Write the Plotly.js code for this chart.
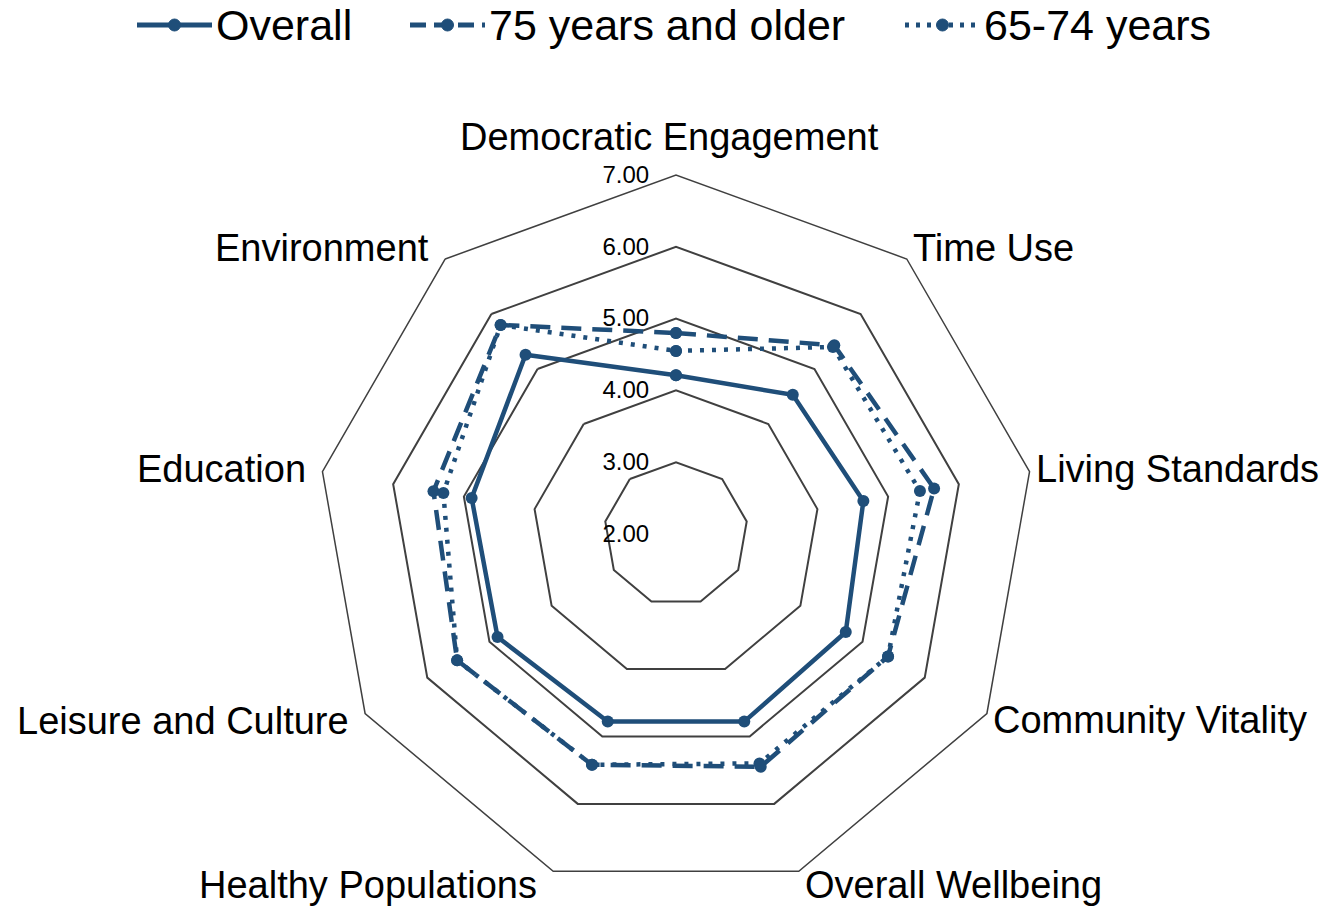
<!DOCTYPE html>
<html>
<head>
<meta charset="utf-8">
<script src="https://cdn.plot.ly/plotly-3.0.1.min.js"></script>
<style>html,body{margin:0;padding:0;background:#fff;}#chart{width:1327px;height:906px;}</style>
</head>
<body>
<div id="chart"></div>
<script>
const categories = ["Democratic Engagement", "Time Use", "Living Standards", "Community Vitality", "Overall Wellbeing", "Healthy Populations", "Leisure and Culture", "Education", "Environment"];
const seriesNames = ["Overall", "75 years and older", "65-74 years"];
const overall = [4.21, 4.53, 4.65, 4.73, 4.78, 4.78, 4.87, 4.89, 5.26];
const older75 = [4.80, 5.43, 5.65, 5.41, 5.45, 5.42, 5.52, 5.43, 5.80];
const age6574 = [4.55, 5.40, 5.45, 5.41, 5.40, 5.42, 5.52, 5.29, 5.80];
const radialTicks = [2, 3, 4, 5, 6, 7];
const radialTickText = ["2.00", "3.00", "4.00", "5.00", "6.00", "7.00"];

const W = 1327, H = 906;
const color = "#1F4E79";
const dashes = ["solid", "20px,11px", "4px,8px"];
const widths = [4.5, 4.5, 4.5];
function closed(arr) { return arr.concat([arr[0]]); }

const seriesValues = [overall, older75, age6574];
const traces = seriesValues.map((vals, k) => ({
  type: "scatterpolar", name: seriesNames[k], r: closed(vals), theta: closed(categories),
  mode: "lines+markers", showlegend: false,
  line: {color: color, width: widths[k], dash: dashes[k]},
  marker: {color: color, size: 12, symbol: "circle"}
}));

// polar geometry (pixels)
const cx = 676, cy = 534, R = 359;
const px = x => x / W, py = y => 1 - y / H;

const annotations = [];
const shapes = [];

// category labels around the chart
categories.forEach((cat, i) => {
  const a = i * 2 * Math.PI / categories.length;
  const s = Math.sin(a), c = Math.cos(a);
  const vx = cx + R * s, vy = cy - R * c;
  let ann;
  if (Math.abs(s) < 0.01) {
    ann = {x: px(vx - 6), y: py(vy - 15), xanchor: "center", yanchor: "bottom"};
  } else {
    ann = {x: px(vx + (s > 0 ? 4 : -14)), y: py(vy - 14 * c), xanchor: s > 0 ? "left" : "right", yanchor: "middle"};
  }
  annotations.push(Object.assign(ann, {text: cat, showarrow: false, xref: "paper", yref: "paper",
    font: {size: 38, color: "#000"}}));
});

// legend (manual, to match the long line glyphs)
const legendX = [137, 410, 905];
const legendY = 25, glyphLen = 75;
seriesNames.forEach((name, k) => {
  const x0 = legendX[k];
  shapes.push({type: "line", xref: "paper", yref: "paper", x0: px(x0), x1: px(x0 + glyphLen), y0: py(legendY), y1: py(legendY),
    line: {color: color, width: 5, dash: k === 0 ? "solid" : (k === 1 ? "16px,8px" : "4px,7px")}});
  const mx = x0 + glyphLen / 2;
  shapes.push({type: "circle", xref: "paper", yref: "paper", x0: px(mx - 6), x1: px(mx + 6), y0: py(legendY + 6), y1: py(legendY - 6),
    fillcolor: color, line: {color: color, width: 1}});
  annotations.push({text: name, x: px(x0 + glyphLen + 2), y: py(legendY), xref: "paper", yref: "paper",
    xanchor: "left", yanchor: "middle", showarrow: false, font: {size: 43, color: "#000"}});
});

const layout = {
  width: W, height: H,
  paper_bgcolor: "#fff",
  margin: {l: 0, r: 0, t: 0, b: 0},
  font: {family: "Liberation Sans, Arial, sans-serif", color: "#000", size: 20},
  showlegend: false,
  annotations: annotations,
  shapes: shapes,
  polar: {
    domain: {x: [(cx - R) / W, (cx + R) / W], y: [1 - (cy + R) / H, 1 - (cy - R) / H]},
    bgcolor: "#fff",
    gridshape: "linear",
    angularaxis: {direction: "clockwise", rotation: 90, showgrid: false, showline: true,
      linecolor: "#404040", linewidth: 1.5, ticks: "", showticklabels: false},
    radialaxis: {range: [2, 7], tickvals: radialTicks, ticktext: radialTickText, angle: 90, tickangle: 90,
      side: "counterclockwise", showline: false, ticks: "outside", ticklen: 18, tickcolor: "rgba(0,0,0,0)",
      gridcolor: "#404040", gridwidth: 1.5, tickfont: {size: 24, color: "#000"}}
  }
};
Plotly.newPlot("chart", traces, layout, {displayModeBar: false});
</script>
</body>
</html>
